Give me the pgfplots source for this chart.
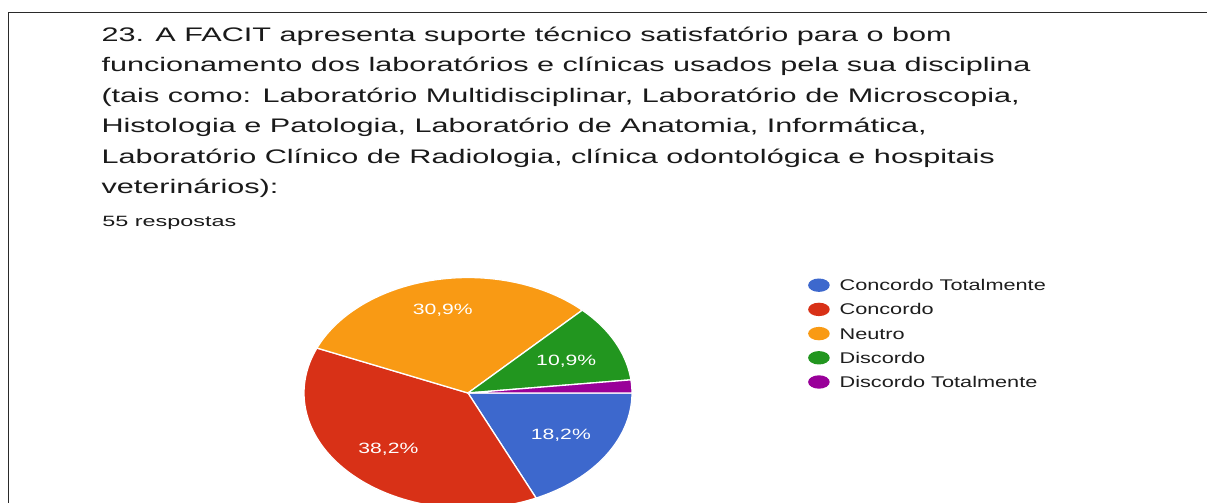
\documentclass[border=0pt]{standalone}
\usepackage{fontspec}
\setmainfont{Liberation Sans}
\newfontfamily\titlefont{Liberation Sans}[FakeStretch=1.562]
\newfontfamily\subfont{Liberation Sans}[FakeStretch=1.57]
\newfontfamily\legfont{Liberation Sans}[FakeStretch=1.40]
\newfontfamily\labfont{Liberation Sans}[FakeStretch=1.42]
\usepackage{pgfplots}
\pgfplotsset{compat=1.18}
\usepackage{pgfplotstable}
\definecolor{cblue}{HTML}{3D68CD}
\definecolor{cred}{HTML}{D83117}
\definecolor{corange}{HTML}{F99A14}
\definecolor{cgreen}{HTML}{22961F}
\definecolor{cpurple}{HTML}{990099}
\definecolor{titlecol}{HTML}{1A1A1A}
\definecolor{legcol}{HTML}{1E1E1E}
\definecolor{bordercol}{HTML}{2A2A2A}

\pgfplotstableread{
answer count
CT 10
C 21
N 17
D 6
DT 1
}\pietable

\begin{document}
\begin{tikzpicture}
\useasboundingbox (0pt,0pt) rectangle (603.5pt,-251.5pt);
\clip (0pt,0pt) rectangle (603.5pt,-251.5pt);
\fill[white] (0pt,0pt) rectangle (603.5pt,-251.5pt);
\draw[line width=0.8pt, color=bordercol] (4.25pt,-251.5pt) -- (4.25pt,-6.15pt) -- (603.5pt,-6.15pt);

\begin{scope}[every node/.style={anchor=base west, inner sep=0pt, outer sep=0pt, text=titlecol, font=\titlefont\fontsize{9.8pt}{15pt}\selectfont}]
\node at (50.75pt,-20.75pt) {23. A FACIT apresenta suporte técnico satisfatório para o bom};
\node at (50.75pt,-35.95pt) {funcionamento dos laboratórios e clínicas usados pela sua disciplina};
\node at (50.75pt,-51.15pt) {(tais como: Laboratório Multidisciplinar, Laboratório de Microscopia,};
\node at (50.75pt,-66.35pt) {Histologia e Patologia, Laboratório de Anatomia, Informática,};
\node at (50.75pt,-81.55pt) {Laboratório Clínico de Radiologia, clínica odontológica e hospitais};
\node at (50.75pt,-96.75pt) {veterinários):};
\end{scope}
\node[anchor=base west, inner sep=0pt, text=titlecol, font=\subfont\fontsize{7.45pt}{9pt}\selectfont] at (51pt,-113pt) {55 respostas};

\pgfplotstablegetelem{0}{count}\of\pietable\edef\cA{\pgfplotsretval}
\pgfplotstablegetelem{1}{count}\of\pietable\edef\cB{\pgfplotsretval}
\pgfplotstablegetelem{2}{count}\of\pietable\edef\cC{\pgfplotsretval}
\pgfplotstablegetelem{3}{count}\of\pietable\edef\cD{\pgfplotsretval}
\pgfplotstablegetelem{4}{count}\of\pietable\edef\cE{\pgfplotsretval}
\pgfmathsetmacro\tot{\cA+\cB+\cC+\cD+\cE}
\pgfmathsetmacro\eA{360*\cA/\tot}
\pgfmathsetmacro\eB{\eA+360*\cB/\tot}
\pgfmathsetmacro\eC{\eB+360*\cC/\tot}
\pgfmathsetmacro\eD{\eC+360*\cD/\tot}
\pgfmathsetmacro\eE{\eD+360*\cE/\tot}

\begin{axis}[
  at={(234pt,-196.5pt)}, anchor=center,
  scale only axis, width=164pt, height=115.5pt,
  xmin=-1, xmax=1, ymin=-1, ymax=1,
  hide axis, clip=false,
  slice/.style={draw=white, line width=0.65pt, line join=round, samples=120},
  legend image code/.code={\fill[draw=none] (5.4pt,2.75pt) ellipse [x radius=5.4pt, y radius=3.35pt]; \path (15.4pt,0pt);},
  legend cell align=left,
  legend style={at={(1.537,0.997)}, anchor=north west, draw=none, fill=none,
    inner sep=0pt, outer sep=0pt, row sep=4.35pt, column sep=0pt,
    font=\legfont\fontsize{7.75pt}{9pt}\selectfont,
    nodes={inner sep=0pt, outer sep=0pt, text height=6.25pt, text depth=1.5pt, text=legcol, anchor=base west}},
]
\addplot[slice, fill=cblue, domain=0:\eA] ({cos(-x)},{sin(-x)}) -- (axis cs:0,0) -- cycle;
\addlegendentry{Concordo Totalmente}
\addplot[slice, fill=cred, domain=\eA:\eB] ({cos(-x)},{sin(-x)}) -- (axis cs:0,0) -- cycle;
\addlegendentry{Concordo}
\addplot[slice, fill=corange, domain=\eB:\eC] ({cos(-x)},{sin(-x)}) -- (axis cs:0,0) -- cycle;
\addlegendentry{Neutro}
\addplot[slice, fill=cgreen, domain=\eC:\eD] ({cos(-x)},{sin(-x)}) -- (axis cs:0,0) -- cycle;
\addlegendentry{Discordo}
\addplot[slice, fill=cpurple, domain=\eD:\eE] ({cos(-x)},{sin(-x)}) -- (axis cs:0,0) -- cycle;
\addlegendentry{Discordo Totalmente}

\begin{scope}[every node/.style={anchor=base, inner sep=0pt, text=white, font=\labfont\fontsize{7.45pt}{9pt}\selectfont}]
\node at (axis cs:-0.154,0.681) {30,9\%};
\node at (axis cs:0.599,0.242) {10,9\%};
\node at (axis cs:0.566,-0.404) {18,2\%};
\node at (axis cs:-0.485,-0.527) {38,2\%};
\end{scope}
\end{axis}
\end{tikzpicture}
\end{document}
